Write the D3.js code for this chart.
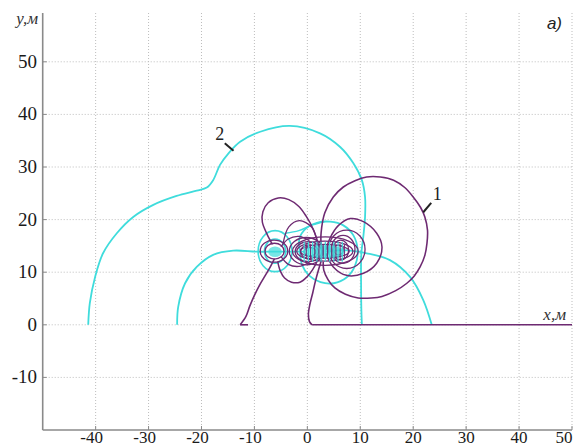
<!DOCTYPE html>
<html><head><meta charset="utf-8">
<script src="https://cdn.jsdelivr.net/npm/d3@7/dist/d3.min.js"></script>
<style>body{margin:0;background:#fff}svg{display:block}
.serif{font-family:'Liberation Serif','Times New Roman',serif}
</style>
</head><body><svg id="c" width="578" height="448"></svg>
<script>
// ---- data ----
const xTicks = [-40,-30,-20,-10,0,10,20,30,40,50];
const yTicks = [-10,0,10,20,30,40,50];
const xGrid = [-40,-30,-20,-10,0,10,20,30,40,50];
const yGrid = [-10,0,10,20,30,40,50];

// cyan lines (2)
const cyanCurve2 = [[-41.4,0],[-41.1,4.1],[-40.1,9.1],[-38.6,13.6],[-36,17.4],[-32.9,20.5],[-29.1,22.8],[-24.7,24.5],[-20.9,25.5],[-19,26.1],[-17.8,27.5],[-16.5,30.4],[-14.9,32.6],[-12.7,34.8],[-8.9,36.7],[-3.3,37.8],[2.4,36.4],[6.2,33.8],[8.7,30.7],[10.3,27.5],[10.9,24.3],[10.9,20.5],[10.6,17],[10.2,13.5],[10.15,8],[10.2,3],[10.3,0]];
const cyanLeft = [[-24.6,0],[-24.4,3.4],[-23.1,7.9],[-20.9,11],[-17.8,13.3],[-14,14.1],[-9.6,13.9],[-6.1,13.9],[-3,13.9],[-0.5,13.9]];
const cyanRight = [[3.5,13.9],[6.8,14.2],[11.2,13.6],[15.6,12.3],[19.4,9.1],[21.9,4.7],[23.5,0]];
const cyanCenterLoop = [[-1.4,13.9],[-1.5,16.4],[-0.3,18.3],[1.8,19.4],[4.3,19.6],[6.8,18.9],[8.7,17],[9.5,14.2],[9,11.2],[7.4,9],[5,7.9],[2.5,8.1],[0.3,9.4],[-1,11.4],[-1.4,13.9]];
const cyanLink = [[-4.2,17.4],[-1.6,17.9],[1,19],[3.2,19.6]];
// cyan ellipses: [cx, cy, rx, ry]
const cyanRings = [[-6.1,14,3.2,3.9],[-6.1,14,2.0,2.3]];
const cyanBlobs = [[-6.1,13.9,1.3,1.0],[3.2,13.9,4.0,1.2]];

// purple lines (1)
const purpleGround = [[0.9,0],[50,0]];
const purpleTail = [[0.9,0],[0.4,0.6],[0.2,2],[0.5,4],[1,6],[1.5,8.2],[2.1,10.4],[2.7,12.4]];
const purpleCurve1 = [[3.0,13.2],[2.6,15.4],[2.6,17.5],[3.3,21.3],[4.9,24.3],[6.8,26.2],[9,27.4],[11.2,28.1],[13.8,28.1],[16.3,27.5],[18.4,26.1],[20,24.3],[21.4,22.3],[22.2,20.5],[22.7,18],[22.6,15.5],[22.2,13.2],[21.3,11],[20.2,9.3],[18.8,7.9],[16.7,6.5],[14.1,5.4],[12.1,5.1],[9.6,5.1],[7.2,5.8],[5.2,7],[3.9,8.6],[3.1,10.4],[3.0,12]];
const purpleLowerTail = [[-6.2,12.6],[-7,11],[-8,9.3],[-9,7.6],[-10,5.6],[-10.9,3.5],[-11.6,1.6],[-12.7,0]];
const purpleFoot = [[-12.7,0],[-11.2,0]];
const purpleUpperLobe = [[-6.6,15.3],[-7.6,17.2],[-8.5,19.5],[-8.4,21.5],[-7.4,23.2],[-5.5,24.1],[-3.5,23.8],[-1.6,22.5],[-0.2,20.6],[1,18.4],[1.8,16.2],[2.2,14.8]];
const purpleLowerLobe = [[-5.6,12],[-5.1,10.2],[-4.3,8.9],[-3,8.1],[-1.4,8.1],[0,9.2],[1,10.5],[1.8,12],[2.2,13.2]];
const purpleRightLobe = [[3.5,14.2],[4.3,16.5],[5.8,18.8],[8.1,20.2],[10.6,19.6],[13.1,17.4],[14.1,14.8],[13.1,11.7],[10.6,9.8],[7.4,9.4],[4.9,11],[3.5,13.6]];
const purpleLinkUp = [[-5,14.8],[-3.6,16.3],[-1.6,16.8],[0.4,16]];
const purpleLinkDown = [[-5,13],[-3.6,11.5],[-1.6,11.1],[0.4,11.9]];
const purpleLinkUp2 = [[-4.6,15.4],[-3.5,18.6],[-1.5,19.8],[0.8,18.6],[1.8,16.2]];
// purple ellipses: [cx, cy, rx, ry]
const purpleRings = [
  [7.45,14.35,3.45,3.65],[6.75,14.35,2.25,2.65],[6.3,14.2,1.5,1.9],[5.9,14.25,0.9,0.95],
  [0.5,13.9,1.1,0.8],[0.4,13.9,1.7,1.3],[0.2,13.9,2.5,1.9],[-0.2,14,3.2,2.6],
  [3.3,14,4.6,1.3],[3.3,14,5.3,1.9],[3.4,14,6.2,2.7],
  [-6.3,14,2.6,2.1],[-6.2,14,1.8,1.5]
];
// hatch positions inside the central cluster
const hatchCyanX = [-0.6,0.2,1.0,1.8,2.6,3.4,4.2,5.0,5.8,6.6];
const hatchPurpleX = [-0.2,0.6,1.4,2.2,3.0,3.8,4.6,5.4,6.2,7.0];

// ---- drawing ----
const svg = d3.select('#c');
const x = d3.scaleLinear().domain([-50,50]).range([42.7,572]);
const y = d3.scaleLinear().domain([-20,60]).range([430,9.2]);
const TOP = 13;
const PURPLE = '#6e2a72', CYAN = '#3fdcdc';

// grid
svg.append('g').selectAll('line').data(xGrid).join('line')
  .attr('x1',d=>x(d)).attr('x2',d=>x(d)).attr('y1',TOP).attr('y2',y(-20))
  .attr('stroke','#bdbdbd').attr('stroke-width',1).attr('stroke-dasharray','1,2');
svg.append('g').selectAll('line').data(yGrid).join('line')
  .attr('x1',x(-50)).attr('x2',x(50)).attr('y1',d=>y(d)).attr('y2',d=>y(d))
  .attr('stroke','#bdbdbd').attr('stroke-width',1).attr('stroke-dasharray','1,2');

// axes
const axG = svg.append('g');
axG.append('line').attr('x1',x(-50)).attr('x2',x(-50)).attr('y1',TOP).attr('y2',y(-20)).attr('stroke','#8a8a8a').attr('stroke-width',1.6);
axG.append('line').attr('x1',x(-50)).attr('x2',x(50)).attr('y1',y(-20)).attr('y2',y(-20)).attr('stroke','#8a8a8a').attr('stroke-width',1.6);
axG.selectAll('.yt').data(yTicks).join('line').attr('class','yt')
  .attr('x1',x(-50)).attr('x2',x(-50)+4).attr('y1',d=>y(d)).attr('y2',d=>y(d)).attr('stroke','#8a8a8a');
axG.selectAll('.xt').data(xTicks).join('line').attr('class','xt')
  .attr('x1',d=>x(d)).attr('x2',d=>x(d)).attr('y1',y(-20)).attr('y2',y(-20)-4).attr('stroke','#8a8a8a');
axG.selectAll('.yl').data(yTicks).join('text').attr('class','yl serif')
  .attr('x',37).attr('y',d=>y(d)+6).attr('text-anchor','end')
  .attr('font-size',19).attr('fill','#1a1a1a').text(d=>d);
axG.selectAll('.xl').data(xTicks).join('text').attr('class','xl serif')
  .attr('x',d=>x(d)-(d<0?4:0)-(d===50?8:0)).attr('y',443).attr('text-anchor','middle')
  .attr('font-size',17).attr('fill','#1a1a1a').text(d=>d);

const line = d3.line().x(d=>x(d[0])).y(d=>y(d[1])).curve(d3.curveCatmullRom.alpha(0.5));
const straight = d3.line().x(d=>x(d[0])).y(d=>y(d[1]));
const plot = svg.append('g');

function drawLine(data, color, w, gen){
  plot.append('path').attr('d',(gen||line)(data)).attr('fill','none').attr('stroke',color).attr('stroke-width',w).attr('stroke-linejoin','round');
}
function drawRings(data, color, w){
  plot.append('g').selectAll('ellipse').data(data).join('ellipse')
    .attr('cx',d=>x(d[0])).attr('cy',d=>y(d[1]))
    .attr('rx',d=>x(d[0]+d[2])-x(d[0])).attr('ry',d=>y(d[1])-y(d[1]+d[3]))
    .attr('fill','none').attr('stroke',color).attr('stroke-width',w);
}

// cyan
drawLine(cyanCurve2, CYAN, 1.8);
drawLine(cyanLeft, CYAN, 1.8);
drawLine(cyanRight, CYAN, 1.8);
drawLine(cyanCenterLoop, CYAN, 1.8);
drawLine(cyanLink, CYAN, 1.5);
drawRings(cyanRings, CYAN, 1.6);

// purple
drawLine(purpleGround, PURPLE, 1.6, straight);
drawLine(purpleTail, PURPLE, 1.6);
drawLine(purpleCurve1, PURPLE, 1.6);
drawLine(purpleLowerTail, PURPLE, 1.6);
drawLine(purpleFoot, PURPLE, 1.6, straight);
drawLine(purpleUpperLobe, PURPLE, 1.5);
drawLine(purpleLowerLobe, PURPLE, 1.5);
drawLine(purpleRightLobe, PURPLE, 1.5);
drawLine(purpleLinkUp, PURPLE, 1.3);
drawLine(purpleLinkDown, PURPLE, 1.3);
drawLine(purpleLinkUp2, PURPLE, 1.3);
drawRings(purpleRings, PURPLE, 1.3);

// blobs
plot.append('g').selectAll('ellipse').data(cyanBlobs).join('ellipse')
  .attr('cx',d=>x(d[0])).attr('cy',d=>y(d[1]))
  .attr('rx',d=>x(d[0]+d[2])-x(d[0])).attr('ry',d=>y(d[1])-y(d[1]+d[3]))
  .attr('fill',CYAN).attr('opacity',0.7);
// hatch
plot.append('g').selectAll('line').data(hatchCyanX).join('line')
  .attr('x1',d=>x(d)).attr('x2',d=>x(d)).attr('y1',y(15.8)).attr('y2',y(12.0))
  .attr('stroke',CYAN).attr('stroke-width',1.2);
plot.append('g').selectAll('line').data(hatchPurpleX).join('line')
  .attr('x1',d=>x(d)).attr('x2',d=>x(d)).attr('y1',y(15.3)).attr('y2',y(12.5))
  .attr('stroke',PURPLE).attr('stroke-width',1);

// labels 1 and 2
svg.append('text').attr('class','serif').attr('x',x(23.7)).attr('y',y(23.7)).attr('font-size',18).attr('fill','#222').text('1');
svg.append('line').attr('x1',x(23.4)).attr('y1',y(23.2)).attr('x2',x(21.9)).attr('y2',y(21.4)).attr('stroke','#222').attr('stroke-width',2);
svg.append('text').attr('class','serif').attr('x',x(-17.4)).attr('y',y(35.2)).attr('font-size',18).attr('fill','#222').text('2');
svg.append('line').attr('x1',x(-15.6)).attr('y1',y(34.5)).attr('x2',x(-13.95)).attr('y2',y(33.1)).attr('stroke','#222').attr('stroke-width',2);

// axis titles
svg.append('text').attr('class','serif').attr('x',38).attr('y',24).attr('text-anchor','end').attr('font-style','italic').attr('font-size',17).attr('fill','#333').text('y,м');
svg.append('text').attr('class','serif').attr('x',566).attr('y',320).attr('text-anchor','end').attr('font-style','italic').attr('font-size',17).attr('fill','#333').text('x,м');
svg.append('text').attr('x',562).attr('y',29).attr('text-anchor','end').style('font-family',"'Liberation Sans',sans-serif").attr('font-style','italic').attr('font-size',17).attr('fill','#222').text('a)');
</script></body></html>
